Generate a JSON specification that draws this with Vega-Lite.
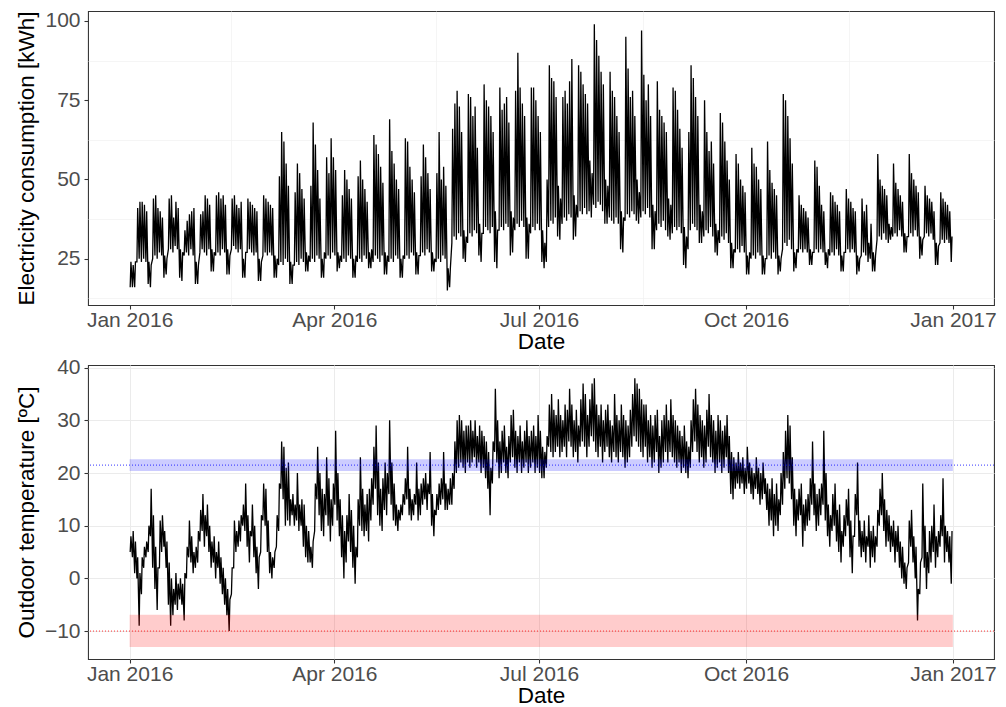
{
"$schema": "https://vega.github.io/schema/vega-lite/v6.json",
"background": "white",
"padding": {"left": 14, "top": 9, "right": 12, "bottom": 0},
"spacing": 60,
"bounds": "flush",
"config": {
"view": {"stroke": "#333333", "strokeWidth": 1.07},
"axis": {"labelFont": "Liberation Sans", "titleFont": "Liberation Sans", "labelFontSize": 21, "titleFontSize": 22.5, "labelColor": "#4D4D4D", "titleColor": "#000000", "titleFontWeight": "normal", "tickColor": "#333333", "tickSize": 4, "tickWidth": 1.07, "domain": false, "gridColor": "#EBEBEB", "gridWidth": 1.07},
"axisX": {"labelPadding": 0, "titlePadding": 0},
"axisY": {"labelPadding": 4, "titlePadding": 6}
},
"datasets": {
"bands": [
{"k": "hot", "x0": "2016-01-01T00:00", "x1": "2016-12-31T23:00", "lo": 20.4, "hi": 22.6, "mid": 21.5},
{"k": "cold", "x0": "2016-01-01T00:00", "x1": "2016-12-31T23:00", "lo": -13, "hi": -6.9, "mid": -10}
],
"ts": [
{"d":"2016-01-01T06:00","e":16,"c":5},{"d":"2016-01-01T14:00","e":24,"c":8},
{"d":"2016-01-02T06:00","e":16,"c":4},{"d":"2016-01-02T14:00","e":23,"c":9},
{"d":"2016-01-03T06:00","e":16,"c":1},{"d":"2016-01-03T14:00","e":24,"c":7},
{"d":"2016-01-04T06:00","e":24,"c":0},{"d":"2016-01-04T14:00","e":41,"c":4},
{"d":"2016-01-05T06:00","e":25,"c":-9},{"d":"2016-01-05T14:00","e":43,"c":1},
{"d":"2016-01-06T06:00","e":24,"c":-3},{"d":"2016-01-06T14:00","e":43,"c":4},
{"d":"2016-01-07T06:00","e":25,"c":2},{"d":"2016-01-07T14:00","e":42,"c":6},
{"d":"2016-01-08T06:00","e":24,"c":4},{"d":"2016-01-08T14:00","e":40,"c":7},
{"d":"2016-01-09T06:00","e":17,"c":5},{"d":"2016-01-09T14:00","e":24,"c":10},
{"d":"2016-01-10T06:00","e":16,"c":8},{"d":"2016-01-10T14:00","e":23,"c":17},
{"d":"2016-01-11T06:00","e":25,"c":2},{"d":"2016-01-11T14:00","e":44,"c":12},
{"d":"2016-01-12T06:00","e":26,"c":-2},{"d":"2016-01-12T14:00","e":45,"c":6},
{"d":"2016-01-13T06:00","e":25,"c":-6},{"d":"2016-01-13T14:00","e":41,"c":2},
{"d":"2016-01-14T06:00","e":27,"c":2},{"d":"2016-01-14T14:00","e":40,"c":11},
{"d":"2016-01-15T06:00","e":26,"c":5},{"d":"2016-01-15T14:00","e":38,"c":12},
{"d":"2016-01-16T06:00","e":19,"c":6},{"d":"2016-01-16T14:00","e":26,"c":9},
{"d":"2016-01-17T06:00","e":20,"c":2},{"d":"2016-01-17T14:00","e":25,"c":7},
{"d":"2016-01-18T06:00","e":28,"c":-5},{"d":"2016-01-18T14:00","e":44,"c":3},
{"d":"2016-01-19T06:00","e":28,"c":-9},{"d":"2016-01-19T14:00","e":45,"c":0},
{"d":"2016-01-20T06:00","e":27,"c":-7},{"d":"2016-01-20T14:00","e":38,"c":-2},
{"d":"2016-01-21T06:00","e":29,"c":-5},{"d":"2016-01-21T14:00","e":43,"c":1},
{"d":"2016-01-22T06:00","e":28,"c":-6},{"d":"2016-01-22T14:00","e":41,"c":-1},
{"d":"2016-01-23T06:00","e":19,"c":-4},{"d":"2016-01-23T14:00","e":28,"c":0},
{"d":"2016-01-24T06:00","e":18,"c":-5},{"d":"2016-01-24T14:00","e":27,"c":-1},
{"d":"2016-01-25T06:00","e":26,"c":-8},{"d":"2016-01-25T14:00","e":34,"c":1},
{"d":"2016-01-26T06:00","e":27,"c":0},{"d":"2016-01-26T14:00","e":37,"c":6},
{"d":"2016-01-27T06:00","e":26,"c":4},{"d":"2016-01-27T14:00","e":39,"c":11},
{"d":"2016-01-28T06:00","e":28,"c":3},{"d":"2016-01-28T14:00","e":40,"c":8},
{"d":"2016-01-29T06:00","e":26,"c":1},{"d":"2016-01-29T14:00","e":41,"c":5},
{"d":"2016-01-30T06:00","e":17,"c":2},{"d":"2016-01-30T14:00","e":24,"c":6},
{"d":"2016-01-31T06:00","e":17,"c":3},{"d":"2016-01-31T14:00","e":23,"c":9},
{"d":"2016-02-01T06:00","e":27,"c":7},{"d":"2016-02-01T14:00","e":39,"c":13},
{"d":"2016-02-02T06:00","e":28,"c":9},{"d":"2016-02-02T14:00","e":40,"c":16},
{"d":"2016-02-03T06:00","e":27,"c":6},{"d":"2016-02-03T14:00","e":45,"c":12},
{"d":"2016-02-04T06:00","e":26,"c":8},{"d":"2016-02-04T14:00","e":44,"c":14},
{"d":"2016-02-05T06:00","e":28,"c":5},{"d":"2016-02-05T14:00","e":42,"c":10},
{"d":"2016-02-06T06:00","e":21,"c":2},{"d":"2016-02-06T14:00","e":28,"c":7},
{"d":"2016-02-07T06:00","e":21,"c":3},{"d":"2016-02-07T14:00","e":27,"c":8},
{"d":"2016-02-08T06:00","e":26,"c":0},{"d":"2016-02-08T14:00","e":45,"c":5},
{"d":"2016-02-09T06:00","e":27,"c":2},{"d":"2016-02-09T14:00","e":46,"c":7},
{"d":"2016-02-10T06:00","e":26,"c":-1},{"d":"2016-02-10T14:00","e":44,"c":4},
{"d":"2016-02-11T06:00","e":28,"c":-3},{"d":"2016-02-11T14:00","e":45,"c":2},
{"d":"2016-02-12T06:00","e":27,"c":-5},{"d":"2016-02-12T14:00","e":42,"c":0},
{"d":"2016-02-13T06:00","e":20,"c":-7},{"d":"2016-02-13T14:00","e":28,"c":-2},
{"d":"2016-02-14T06:00","e":20,"c":-10},{"d":"2016-02-14T14:00","e":26,"c":-4},
{"d":"2016-02-15T06:00","e":28,"c":-3},{"d":"2016-02-15T14:00","e":44,"c":2},
{"d":"2016-02-16T06:00","e":29,"c":2},{"d":"2016-02-16T14:00","e":45,"c":11},
{"d":"2016-02-17T06:00","e":28,"c":5},{"d":"2016-02-17T14:00","e":42,"c":9},
{"d":"2016-02-18T06:00","e":27,"c":6},{"d":"2016-02-18T14:00","e":41,"c":11},
{"d":"2016-02-19T06:00","e":28,"c":7},{"d":"2016-02-19T14:00","e":43,"c":12},
{"d":"2016-02-20T06:00","e":19,"c":10},{"d":"2016-02-20T14:00","e":25,"c":14},
{"d":"2016-02-21T06:00","e":19,"c":9},{"d":"2016-02-21T14:00","e":27,"c":18},
{"d":"2016-02-22T06:00","e":27,"c":6},{"d":"2016-02-22T14:00","e":44,"c":12},
{"d":"2016-02-23T06:00","e":28,"c":3},{"d":"2016-02-23T14:00","e":43,"c":9},
{"d":"2016-02-24T06:00","e":27,"c":8},{"d":"2016-02-24T14:00","e":42,"c":14},
{"d":"2016-02-25T06:00","e":26,"c":4},{"d":"2016-02-25T14:00","e":41,"c":10},
{"d":"2016-02-26T06:00","e":27,"c":1},{"d":"2016-02-26T14:00","e":40,"c":6},
{"d":"2016-02-27T06:00","e":18,"c":-2},{"d":"2016-02-27T14:00","e":25,"c":4},
{"d":"2016-02-28T06:00","e":18,"c":5},{"d":"2016-02-28T14:00","e":24,"c":12},
{"d":"2016-02-29T06:00","e":26,"c":11},{"d":"2016-02-29T14:00","e":45,"c":18},
{"d":"2016-03-01T06:00","e":27,"c":10},{"d":"2016-03-01T14:00","e":44,"c":17},
{"d":"2016-03-02T06:00","e":26,"c":5},{"d":"2016-03-02T14:00","e":43,"c":11},
{"d":"2016-03-03T06:00","e":27,"c":1},{"d":"2016-03-03T14:00","e":42,"c":5},
{"d":"2016-03-04T06:00","e":26,"c":0},{"d":"2016-03-04T14:00","e":41,"c":4},
{"d":"2016-03-05T06:00","e":19,"c":2},{"d":"2016-03-05T14:00","e":26,"c":5},
{"d":"2016-03-06T06:00","e":19,"c":6},{"d":"2016-03-06T14:00","e":25,"c":12},
{"d":"2016-03-07T06:00","e":23,"c":9},{"d":"2016-03-07T14:00","e":51,"c":18},
{"d":"2016-03-08T06:00","e":24,"c":17},{"d":"2016-03-08T14:00","e":65,"c":26},
{"d":"2016-03-09T06:00","e":23,"c":15},{"d":"2016-03-09T14:00","e":62,"c":25},
{"d":"2016-03-10T06:00","e":25,"c":10},{"d":"2016-03-10T14:00","e":55,"c":21},
{"d":"2016-03-11T06:00","e":24,"c":11},{"d":"2016-03-11T14:00","e":48,"c":22},
{"d":"2016-03-12T06:00","e":17,"c":10},{"d":"2016-03-12T14:00","e":24,"c":15},
{"d":"2016-03-13T06:00","e":17,"c":12},{"d":"2016-03-13T14:00","e":23,"c":16},
{"d":"2016-03-14T06:00","e":23,"c":10},{"d":"2016-03-14T14:00","e":46,"c":14},
{"d":"2016-03-15T06:00","e":24,"c":11},{"d":"2016-03-15T14:00","e":55,"c":20},
{"d":"2016-03-16T06:00","e":23,"c":9},{"d":"2016-03-16T14:00","e":52,"c":14},
{"d":"2016-03-17T06:00","e":25,"c":10},{"d":"2016-03-17T14:00","e":47,"c":15},
{"d":"2016-03-18T06:00","e":24,"c":6},{"d":"2016-03-18T14:00","e":44,"c":14},
{"d":"2016-03-19T06:00","e":21,"c":4},{"d":"2016-03-19T14:00","e":27,"c":10},
{"d":"2016-03-20T06:00","e":21,"c":3},{"d":"2016-03-20T14:00","e":26,"c":9},
{"d":"2016-03-21T06:00","e":24,"c":3},{"d":"2016-03-21T14:00","e":48,"c":6},
{"d":"2016-03-22T06:00","e":25,"c":2},{"d":"2016-03-22T14:00","e":68,"c":7},
{"d":"2016-03-23T06:00","e":24,"c":9},{"d":"2016-03-23T14:00","e":61,"c":18},
{"d":"2016-03-24T06:00","e":26,"c":15},{"d":"2016-03-24T14:00","e":53,"c":25},
{"d":"2016-03-25T06:00","e":25,"c":12},{"d":"2016-03-25T14:00","e":44,"c":20},
{"d":"2016-03-26T06:00","e":19,"c":9},{"d":"2016-03-26T14:00","e":25,"c":17},
{"d":"2016-03-27T06:00","e":19,"c":8},{"d":"2016-03-27T14:00","e":27,"c":16},
{"d":"2016-03-28T06:00","e":25,"c":12},{"d":"2016-03-28T14:00","e":57,"c":23},
{"d":"2016-03-29T06:00","e":26,"c":10},{"d":"2016-03-29T14:00","e":52,"c":19},
{"d":"2016-03-30T06:00","e":25,"c":7},{"d":"2016-03-30T14:00","e":63,"c":15},
{"d":"2016-03-31T06:00","e":27,"c":10},{"d":"2016-03-31T14:00","e":57,"c":18},
{"d":"2016-04-01T06:00","e":26,"c":14},{"d":"2016-04-01T14:00","e":53,"c":28},
{"d":"2016-04-02T06:00","e":21,"c":11},{"d":"2016-04-02T14:00","e":27,"c":20},
{"d":"2016-04-03T06:00","e":22,"c":8},{"d":"2016-04-03T14:00","e":26,"c":15},
{"d":"2016-04-04T06:00","e":24,"c":4},{"d":"2016-04-04T14:00","e":45,"c":12},
{"d":"2016-04-05T06:00","e":25,"c":0},{"d":"2016-04-05T14:00","e":53,"c":9},
{"d":"2016-04-06T06:00","e":24,"c":3},{"d":"2016-04-06T14:00","e":50,"c":12},
{"d":"2016-04-07T06:00","e":26,"c":7},{"d":"2016-04-07T14:00","e":47,"c":16},
{"d":"2016-04-08T06:00","e":25,"c":5},{"d":"2016-04-08T14:00","e":44,"c":13},
{"d":"2016-04-09T06:00","e":19,"c":2},{"d":"2016-04-09T14:00","e":25,"c":10},
{"d":"2016-04-10T06:00","e":19,"c":-1},{"d":"2016-04-10T14:00","e":26,"c":6},
{"d":"2016-04-11T06:00","e":24,"c":4},{"d":"2016-04-11T14:00","e":51,"c":15},
{"d":"2016-04-12T06:00","e":25,"c":10},{"d":"2016-04-12T14:00","e":56,"c":23},
{"d":"2016-04-13T06:00","e":24,"c":9},{"d":"2016-04-13T14:00","e":50,"c":17},
{"d":"2016-04-14T06:00","e":26,"c":8},{"d":"2016-04-14T14:00","e":47,"c":14},
{"d":"2016-04-15T06:00","e":25,"c":9},{"d":"2016-04-15T14:00","e":43,"c":16},
{"d":"2016-04-16T06:00","e":22,"c":7},{"d":"2016-04-16T14:00","e":27,"c":17},
{"d":"2016-04-17T06:00","e":22,"c":11},{"d":"2016-04-17T14:00","e":28,"c":19},
{"d":"2016-04-18T06:00","e":24,"c":14},{"d":"2016-04-18T14:00","e":64,"c":25},
{"d":"2016-04-19T06:00","e":26,"c":17},{"d":"2016-04-19T14:00","e":61,"c":29},
{"d":"2016-04-20T06:00","e":25,"c":12},{"d":"2016-04-20T14:00","e":58,"c":22},
{"d":"2016-04-21T06:00","e":24,"c":10},{"d":"2016-04-21T14:00","e":54,"c":17},
{"d":"2016-04-22T06:00","e":26,"c":9},{"d":"2016-04-22T14:00","e":49,"c":19},
{"d":"2016-04-23T06:00","e":20,"c":13},{"d":"2016-04-23T14:00","e":27,"c":22},
{"d":"2016-04-24T06:00","e":20,"c":12},{"d":"2016-04-24T14:00","e":26,"c":20},
{"d":"2016-04-25T06:00","e":24,"c":16},{"d":"2016-04-25T14:00","e":69,"c":30},
{"d":"2016-04-26T06:00","e":25,"c":14},{"d":"2016-04-26T14:00","e":59,"c":22},
{"d":"2016-04-27T06:00","e":24,"c":11},{"d":"2016-04-27T14:00","e":55,"c":18},
{"d":"2016-04-28T06:00","e":26,"c":10},{"d":"2016-04-28T14:00","e":50,"c":14},
{"d":"2016-04-29T06:00","e":25,"c":9},{"d":"2016-04-29T14:00","e":47,"c":13},
{"d":"2016-04-30T06:00","e":19,"c":11},{"d":"2016-04-30T14:00","e":25,"c":14},
{"d":"2016-05-01T06:00","e":19,"c":12},{"d":"2016-05-01T14:00","e":26,"c":16},
{"d":"2016-05-02T06:00","e":25,"c":14},{"d":"2016-05-02T14:00","e":63,"c":19},
{"d":"2016-05-03T06:00","e":26,"c":15},{"d":"2016-05-03T14:00","e":62,"c":25},
{"d":"2016-05-04T06:00","e":25,"c":12},{"d":"2016-05-04T14:00","e":54,"c":17},
{"d":"2016-05-05T06:00","e":27,"c":11},{"d":"2016-05-05T14:00","e":50,"c":15},
{"d":"2016-05-06T06:00","e":26,"c":12},{"d":"2016-05-06T14:00","e":46,"c":16},
{"d":"2016-05-07T06:00","e":20,"c":14},{"d":"2016-05-07T14:00","e":27,"c":22},
{"d":"2016-05-08T06:00","e":20,"c":11},{"d":"2016-05-08T14:00","e":26,"c":17},
{"d":"2016-05-09T06:00","e":26,"c":12},{"d":"2016-05-09T14:00","e":51,"c":18},
{"d":"2016-05-10T06:00","e":27,"c":14},{"d":"2016-05-10T14:00","e":61,"c":19},
{"d":"2016-05-11T06:00","e":26,"c":15},{"d":"2016-05-11T14:00","e":57,"c":20},
{"d":"2016-05-12T06:00","e":28,"c":13},{"d":"2016-05-12T14:00","e":52,"c":18},
{"d":"2016-05-13T06:00","e":27,"c":16},{"d":"2016-05-13T14:00","e":47,"c":24},
{"d":"2016-05-14T06:00","e":21,"c":10},{"d":"2016-05-14T14:00","e":27,"c":16},
{"d":"2016-05-15T06:00","e":21,"c":8},{"d":"2016-05-15T14:00","e":25,"c":13},
{"d":"2016-05-16T06:00","e":24,"c":12},{"d":"2016-05-16T14:00","e":52,"c":16},
{"d":"2016-05-17T06:00","e":25,"c":13},{"d":"2016-05-17T14:00","e":65,"c":18},
{"d":"2016-05-18T06:00","e":24,"c":14},{"d":"2016-05-18T14:00","e":50,"c":19},
{"d":"2016-05-19T06:00","e":26,"c":15},{"d":"2016-05-19T14:00","e":54,"c":24},
{"d":"2016-05-20T06:00","e":25,"c":13},{"d":"2016-05-20T14:00","e":48,"c":18},
{"d":"2016-05-21T06:00","e":15,"c":13},{"d":"2016-05-21T14:00","e":22,"c":17},
{"d":"2016-05-22T06:00","e":16,"c":14},{"d":"2016-05-22T14:00","e":22,"c":19},
{"d":"2016-05-23T06:00","e":30,"c":14},{"d":"2016-05-23T14:00","e":66,"c":20},
{"d":"2016-05-24T06:00","e":32,"c":17},{"d":"2016-05-24T14:00","e":74,"c":26},
{"d":"2016-05-25T06:00","e":31,"c":20},{"d":"2016-05-25T14:00","e":78,"c":30},
{"d":"2016-05-26T06:00","e":33,"c":21},{"d":"2016-05-26T14:00","e":73,"c":31},
{"d":"2016-05-27T06:00","e":32,"c":22},{"d":"2016-05-27T14:00","e":65,"c":30},
{"d":"2016-05-28T06:00","e":25,"c":21},{"d":"2016-05-28T14:00","e":34,"c":28},
{"d":"2016-05-29T06:00","e":24,"c":20},{"d":"2016-05-29T14:00","e":32,"c":29},
{"d":"2016-05-30T06:00","e":30,"c":22},{"d":"2016-05-30T14:00","e":77,"c":29},
{"d":"2016-05-31T06:00","e":33,"c":21},{"d":"2016-05-31T14:00","e":76,"c":30},
{"d":"2016-06-01T06:00","e":32,"c":22},{"d":"2016-06-01T14:00","e":70,"c":28},
{"d":"2016-06-02T06:00","e":34,"c":23},{"d":"2016-06-02T14:00","e":73,"c":30},
{"d":"2016-06-03T06:00","e":33,"c":21},{"d":"2016-06-03T14:00","e":60,"c":27},
{"d":"2016-06-04T06:00","e":26,"c":22},{"d":"2016-06-04T14:00","e":36,"c":29},
{"d":"2016-06-05T06:00","e":24,"c":20},{"d":"2016-06-05T14:00","e":33,"c":28},
{"d":"2016-06-06T06:00","e":33,"c":21},{"d":"2016-06-06T14:00","e":80,"c":27},
{"d":"2016-06-07T06:00","e":35,"c":19},{"d":"2016-06-07T14:00","e":75,"c":26},
{"d":"2016-06-08T06:00","e":34,"c":17},{"d":"2016-06-08T14:00","e":73,"c":24},
{"d":"2016-06-09T06:00","e":33,"c":12},{"d":"2016-06-09T14:00","e":70,"c":21},
{"d":"2016-06-10T06:00","e":35,"c":18},{"d":"2016-06-10T14:00","e":65,"c":26},
{"d":"2016-06-11T06:00","e":24,"c":24},{"d":"2016-06-11T14:00","e":40,"c":36},
{"d":"2016-06-12T06:00","e":22,"c":22},{"d":"2016-06-12T14:00","e":34,"c":30},
{"d":"2016-06-13T06:00","e":34,"c":19},{"d":"2016-06-13T14:00","e":79,"c":26},
{"d":"2016-06-14T06:00","e":35,"c":20},{"d":"2016-06-14T14:00","e":72,"c":28},
{"d":"2016-06-15T06:00","e":34,"c":22},{"d":"2016-06-15T14:00","e":74,"c":29},
{"d":"2016-06-16T06:00","e":36,"c":20},{"d":"2016-06-16T14:00","e":76,"c":25},
{"d":"2016-06-17T06:00","e":35,"c":19},{"d":"2016-06-17T14:00","e":68,"c":27},
{"d":"2016-06-18T06:00","e":26,"c":22},{"d":"2016-06-18T14:00","e":40,"c":31},
{"d":"2016-06-19T06:00","e":27,"c":23},{"d":"2016-06-19T14:00","e":38,"c":32},
{"d":"2016-06-20T06:00","e":34,"c":21},{"d":"2016-06-20T14:00","e":78,"c":28},
{"d":"2016-06-21T06:00","e":36,"c":20},{"d":"2016-06-21T14:00","e":90,"c":27},
{"d":"2016-06-22T06:00","e":35,"c":22},{"d":"2016-06-22T14:00","e":79,"c":29},
{"d":"2016-06-23T06:00","e":37,"c":20},{"d":"2016-06-23T14:00","e":74,"c":26},
{"d":"2016-06-24T06:00","e":35,"c":21},{"d":"2016-06-24T14:00","e":70,"c":28},
{"d":"2016-06-25T06:00","e":25,"c":22},{"d":"2016-06-25T14:00","e":38,"c":30},
{"d":"2016-06-26T06:00","e":25,"c":20},{"d":"2016-06-26T14:00","e":36,"c":27},
{"d":"2016-06-27T06:00","e":33,"c":21},{"d":"2016-06-27T14:00","e":79,"c":28},
{"d":"2016-06-28T06:00","e":35,"c":22},{"d":"2016-06-28T14:00","e":79,"c":29},
{"d":"2016-06-29T06:00","e":34,"c":20},{"d":"2016-06-29T14:00","e":75,"c":27},
{"d":"2016-06-30T06:00","e":36,"c":21},{"d":"2016-06-30T14:00","e":70,"c":31},
{"d":"2016-07-01T06:00","e":34,"c":20},{"d":"2016-07-01T14:00","e":65,"c":28},
{"d":"2016-07-02T06:00","e":24,"c":19},{"d":"2016-07-02T14:00","e":34,"c":25},
{"d":"2016-07-03T06:00","e":22,"c":19},{"d":"2016-07-03T14:00","e":30,"c":24},
{"d":"2016-07-04T06:00","e":24,"c":21},{"d":"2016-07-04T14:00","e":50,"c":27},
{"d":"2016-07-05T06:00","e":35,"c":25},{"d":"2016-07-05T14:00","e":86,"c":33},
{"d":"2016-07-06T06:00","e":37,"c":24},{"d":"2016-07-06T14:00","e":82,"c":35},
{"d":"2016-07-07T06:00","e":36,"c":23},{"d":"2016-07-07T14:00","e":81,"c":32},
{"d":"2016-07-08T06:00","e":38,"c":24},{"d":"2016-07-08T14:00","e":76,"c":31},
{"d":"2016-07-09T06:00","e":32,"c":25},{"d":"2016-07-09T14:00","e":48,"c":34},
{"d":"2016-07-10T06:00","e":31,"c":23},{"d":"2016-07-10T14:00","e":44,"c":31},
{"d":"2016-07-11T06:00","e":36,"c":24},{"d":"2016-07-11T14:00","e":76,"c":30},
{"d":"2016-07-12T06:00","e":38,"c":25},{"d":"2016-07-12T14:00","e":78,"c":33},
{"d":"2016-07-13T06:00","e":37,"c":23},{"d":"2016-07-13T14:00","e":74,"c":32},
{"d":"2016-07-14T06:00","e":39,"c":26},{"d":"2016-07-14T14:00","e":81,"c":36},
{"d":"2016-07-15T06:00","e":38,"c":25},{"d":"2016-07-15T14:00","e":88,"c":33},
{"d":"2016-07-16T06:00","e":31,"c":23},{"d":"2016-07-16T14:00","e":45,"c":30},
{"d":"2016-07-17T06:00","e":32,"c":24},{"d":"2016-07-17T14:00","e":42,"c":32},
{"d":"2016-07-18T06:00","e":38,"c":22},{"d":"2016-07-18T14:00","e":86,"c":29},
{"d":"2016-07-19T06:00","e":40,"c":25},{"d":"2016-07-19T14:00","e":84,"c":34},
{"d":"2016-07-20T06:00","e":39,"c":26},{"d":"2016-07-20T14:00","e":80,"c":37},
{"d":"2016-07-21T06:00","e":41,"c":25},{"d":"2016-07-21T14:00","e":77,"c":35},
{"d":"2016-07-22T06:00","e":39,"c":23},{"d":"2016-07-22T14:00","e":74,"c":31},
{"d":"2016-07-23T06:00","e":40,"c":25},{"d":"2016-07-23T14:00","e":56,"c":34},
{"d":"2016-07-24T06:00","e":38,"c":27},{"d":"2016-07-24T14:00","e":52,"c":37},
{"d":"2016-07-25T06:00","e":42,"c":26},{"d":"2016-07-25T14:00","e":99,"c":38},
{"d":"2016-07-26T06:00","e":41,"c":24},{"d":"2016-07-26T14:00","e":94,"c":33},
{"d":"2016-07-27T06:00","e":43,"c":23},{"d":"2016-07-27T14:00","e":89,"c":31},
{"d":"2016-07-28T06:00","e":42,"c":25},{"d":"2016-07-28T14:00","e":84,"c":33},
{"d":"2016-07-29T06:00","e":40,"c":22},{"d":"2016-07-29T14:00","e":80,"c":30},
{"d":"2016-07-30T06:00","e":36,"c":24},{"d":"2016-07-30T14:00","e":50,"c":32},
{"d":"2016-07-31T06:00","e":36,"c":25},{"d":"2016-07-31T14:00","e":48,"c":33},
{"d":"2016-08-01T06:00","e":38,"c":23},{"d":"2016-08-01T14:00","e":84,"c":30},
{"d":"2016-08-02T06:00","e":37,"c":22},{"d":"2016-08-02T14:00","e":78,"c":29},
{"d":"2016-08-03T06:00","e":36,"c":24},{"d":"2016-08-03T14:00","e":76,"c":35},
{"d":"2016-08-04T06:00","e":38,"c":23},{"d":"2016-08-04T14:00","e":70,"c":31},
{"d":"2016-08-05T06:00","e":36,"c":22},{"d":"2016-08-05T14:00","e":65,"c":30},
{"d":"2016-08-06T06:00","e":28,"c":24},{"d":"2016-08-06T14:00","e":40,"c":33},
{"d":"2016-08-07T06:00","e":27,"c":23},{"d":"2016-08-07T14:00","e":38,"c":31},
{"d":"2016-08-08T06:00","e":37,"c":21},{"d":"2016-08-08T14:00","e":95,"c":30},
{"d":"2016-08-09T06:00","e":39,"c":22},{"d":"2016-08-09T14:00","e":85,"c":29},
{"d":"2016-08-10T06:00","e":38,"c":23},{"d":"2016-08-10T14:00","e":76,"c":32},
{"d":"2016-08-11T06:00","e":40,"c":25},{"d":"2016-08-11T14:00","e":78,"c":35},
{"d":"2016-08-12T06:00","e":39,"c":27},{"d":"2016-08-12T14:00","e":70,"c":38},
{"d":"2016-08-13T06:00","e":37,"c":26},{"d":"2016-08-13T14:00","e":50,"c":37},
{"d":"2016-08-14T06:00","e":36,"c":25},{"d":"2016-08-14T14:00","e":46,"c":36},
{"d":"2016-08-15T06:00","e":38,"c":24},{"d":"2016-08-15T14:00","e":97,"c":34},
{"d":"2016-08-16T06:00","e":40,"c":23},{"d":"2016-08-16T14:00","e":83,"c":33},
{"d":"2016-08-17T06:00","e":39,"c":25},{"d":"2016-08-17T14:00","e":75,"c":33},
{"d":"2016-08-18T06:00","e":41,"c":22},{"d":"2016-08-18T14:00","e":80,"c":30},
{"d":"2016-08-19T06:00","e":38,"c":23},{"d":"2016-08-19T14:00","e":70,"c":31},
{"d":"2016-08-20T06:00","e":28,"c":21},{"d":"2016-08-20T14:00","e":42,"c":29},
{"d":"2016-08-21T06:00","e":28,"c":22},{"d":"2016-08-21T14:00","e":40,"c":31},
{"d":"2016-08-22T06:00","e":34,"c":24},{"d":"2016-08-22T14:00","e":81,"c":32},
{"d":"2016-08-23T06:00","e":36,"c":20},{"d":"2016-08-23T14:00","e":72,"c":27},
{"d":"2016-08-24T06:00","e":35,"c":21},{"d":"2016-08-24T14:00","e":70,"c":30},
{"d":"2016-08-25T06:00","e":37,"c":22},{"d":"2016-08-25T14:00","e":68,"c":31},
{"d":"2016-08-26T06:00","e":34,"c":24},{"d":"2016-08-26T14:00","e":65,"c":33},
{"d":"2016-08-27T06:00","e":32,"c":22},{"d":"2016-08-27T14:00","e":44,"c":30},
{"d":"2016-08-28T06:00","e":31,"c":24},{"d":"2016-08-28T14:00","e":42,"c":34},
{"d":"2016-08-29T06:00","e":33,"c":23},{"d":"2016-08-29T14:00","e":79,"c":31},
{"d":"2016-08-30T06:00","e":35,"c":22},{"d":"2016-08-30T14:00","e":78,"c":30},
{"d":"2016-08-31T06:00","e":34,"c":21},{"d":"2016-08-31T14:00","e":72,"c":29},
{"d":"2016-09-01T06:00","e":35,"c":22},{"d":"2016-09-01T14:00","e":66,"c":28},
{"d":"2016-09-02T06:00","e":33,"c":20},{"d":"2016-09-02T14:00","e":60,"c":27},
{"d":"2016-09-03T06:00","e":23,"c":21},{"d":"2016-09-03T14:00","e":35,"c":29},
{"d":"2016-09-04T06:00","e":22,"c":20},{"d":"2016-09-04T14:00","e":32,"c":26},
{"d":"2016-09-05T06:00","e":28,"c":19},{"d":"2016-09-05T14:00","e":65,"c":25},
{"d":"2016-09-06T06:00","e":34,"c":21},{"d":"2016-09-06T14:00","e":86,"c":30},
{"d":"2016-09-07T06:00","e":36,"c":24},{"d":"2016-09-07T14:00","e":82,"c":34},
{"d":"2016-09-08T06:00","e":35,"c":26},{"d":"2016-09-08T14:00","e":76,"c":36},
{"d":"2016-09-09T06:00","e":34,"c":24},{"d":"2016-09-09T14:00","e":70,"c":33},
{"d":"2016-09-10T06:00","e":30,"c":22},{"d":"2016-09-10T14:00","e":42,"c":31},
{"d":"2016-09-11T06:00","e":30,"c":23},{"d":"2016-09-11T14:00","e":40,"c":30},
{"d":"2016-09-12T06:00","e":32,"c":21},{"d":"2016-09-12T14:00","e":75,"c":29},
{"d":"2016-09-13T06:00","e":34,"c":22},{"d":"2016-09-13T14:00","e":65,"c":32},
{"d":"2016-09-14T06:00","e":33,"c":25},{"d":"2016-09-14T14:00","e":59,"c":35},
{"d":"2016-09-15T06:00","e":35,"c":23},{"d":"2016-09-15T14:00","e":62,"c":31},
{"d":"2016-09-16T06:00","e":32,"c":22},{"d":"2016-09-16T14:00","e":55,"c":30},
{"d":"2016-09-17T06:00","e":27,"c":20},{"d":"2016-09-17T14:00","e":36,"c":28},
{"d":"2016-09-18T06:00","e":26,"c":21},{"d":"2016-09-18T14:00","e":34,"c":31},
{"d":"2016-09-19T06:00","e":30,"c":22},{"d":"2016-09-19T14:00","e":71,"c":30},
{"d":"2016-09-20T06:00","e":32,"c":20},{"d":"2016-09-20T14:00","e":68,"c":28},
{"d":"2016-09-21T06:00","e":31,"c":21},{"d":"2016-09-21T14:00","e":62,"c":29},
{"d":"2016-09-22T06:00","e":33,"c":23},{"d":"2016-09-22T14:00","e":56,"c":31},
{"d":"2016-09-23T06:00","e":30,"c":20},{"d":"2016-09-23T14:00","e":50,"c":27},
{"d":"2016-09-24T06:00","e":22,"c":16},{"d":"2016-09-24T14:00","e":30,"c":24},
{"d":"2016-09-25T06:00","e":22,"c":15},{"d":"2016-09-25T14:00","e":28,"c":23},
{"d":"2016-09-26T06:00","e":27,"c":17},{"d":"2016-09-26T14:00","e":58,"c":22},
{"d":"2016-09-27T06:00","e":28,"c":18},{"d":"2016-09-27T14:00","e":55,"c":24},
{"d":"2016-09-28T06:00","e":27,"c":17},{"d":"2016-09-28T14:00","e":50,"c":22},
{"d":"2016-09-29T06:00","e":29,"c":18},{"d":"2016-09-29T14:00","e":48,"c":23},
{"d":"2016-09-30T06:00","e":27,"c":16},{"d":"2016-09-30T14:00","e":46,"c":21},
{"d":"2016-10-01T06:00","e":20,"c":17},{"d":"2016-10-01T14:00","e":26,"c":25},
{"d":"2016-10-02T06:00","e":20,"c":18},{"d":"2016-10-02T14:00","e":27,"c":22},
{"d":"2016-10-03T06:00","e":25,"c":16},{"d":"2016-10-03T14:00","e":60,"c":21},
{"d":"2016-10-04T06:00","e":26,"c":15},{"d":"2016-10-04T14:00","e":55,"c":20},
{"d":"2016-10-05T06:00","e":25,"c":17},{"d":"2016-10-05T14:00","e":54,"c":23},
{"d":"2016-10-06T06:00","e":27,"c":16},{"d":"2016-10-06T14:00","e":50,"c":21},
{"d":"2016-10-07T06:00","e":26,"c":14},{"d":"2016-10-07T14:00","e":47,"c":20},
{"d":"2016-10-08T06:00","e":20,"c":15},{"d":"2016-10-08T14:00","e":26,"c":22},
{"d":"2016-10-09T06:00","e":20,"c":16},{"d":"2016-10-09T14:00","e":25,"c":19},
{"d":"2016-10-10T06:00","e":25,"c":13},{"d":"2016-10-10T14:00","e":62,"c":18},
{"d":"2016-10-11T06:00","e":26,"c":10},{"d":"2016-10-11T14:00","e":53,"c":17},
{"d":"2016-10-12T06:00","e":25,"c":11},{"d":"2016-10-12T14:00","e":49,"c":19},
{"d":"2016-10-13T06:00","e":27,"c":8},{"d":"2016-10-13T14:00","e":47,"c":16},
{"d":"2016-10-14T06:00","e":25,"c":10},{"d":"2016-10-14T14:00","e":45,"c":18},
{"d":"2016-10-15T06:00","e":20,"c":9},{"d":"2016-10-15T14:00","e":26,"c":15},
{"d":"2016-10-16T06:00","e":21,"c":12},{"d":"2016-10-16T14:00","e":25,"c":20},
{"d":"2016-10-17T06:00","e":28,"c":14},{"d":"2016-10-17T14:00","e":77,"c":24},
{"d":"2016-10-18T06:00","e":30,"c":17},{"d":"2016-10-18T14:00","e":75,"c":28},
{"d":"2016-10-19T06:00","e":29,"c":19},{"d":"2016-10-19T14:00","e":70,"c":31},
{"d":"2016-10-20T06:00","e":31,"c":18},{"d":"2016-10-20T14:00","e":63,"c":29},
{"d":"2016-10-21T06:00","e":28,"c":15},{"d":"2016-10-21T14:00","e":55,"c":23},
{"d":"2016-10-22T06:00","e":21,"c":10},{"d":"2016-10-22T14:00","e":27,"c":17},
{"d":"2016-10-23T06:00","e":22,"c":8},{"d":"2016-10-23T14:00","e":28,"c":15},
{"d":"2016-10-24T06:00","e":27,"c":11},{"d":"2016-10-24T14:00","e":45,"c":17},
{"d":"2016-10-25T06:00","e":28,"c":12},{"d":"2016-10-25T14:00","e":42,"c":18},
{"d":"2016-10-26T06:00","e":27,"c":6},{"d":"2016-10-26T14:00","e":41,"c":14},
{"d":"2016-10-27T06:00","e":28,"c":9},{"d":"2016-10-27T14:00","e":40,"c":15},
{"d":"2016-10-28T06:00","e":27,"c":10},{"d":"2016-10-28T14:00","e":38,"c":16},
{"d":"2016-10-29T06:00","e":23,"c":11},{"d":"2016-10-29T14:00","e":28,"c":19},
{"d":"2016-10-30T06:00","e":23,"c":14},{"d":"2016-10-30T14:00","e":27,"c":26},
{"d":"2016-10-31T06:00","e":27,"c":12},{"d":"2016-10-31T14:00","e":56,"c":18},
{"d":"2016-11-01T06:00","e":28,"c":9},{"d":"2016-11-01T14:00","e":54,"c":16},
{"d":"2016-11-02T06:00","e":27,"c":10},{"d":"2016-11-02T14:00","e":48,"c":17},
{"d":"2016-11-03T06:00","e":28,"c":12},{"d":"2016-11-03T14:00","e":42,"c":18},
{"d":"2016-11-04T06:00","e":27,"c":14},{"d":"2016-11-04T14:00","e":40,"c":28},
{"d":"2016-11-05T06:00","e":23,"c":11},{"d":"2016-11-05T14:00","e":27,"c":20},
{"d":"2016-11-06T06:00","e":22,"c":8},{"d":"2016-11-06T14:00","e":28,"c":14},
{"d":"2016-11-07T06:00","e":26,"c":6},{"d":"2016-11-07T14:00","e":46,"c":12},
{"d":"2016-11-08T06:00","e":27,"c":9},{"d":"2016-11-08T14:00","e":45,"c":16},
{"d":"2016-11-09T06:00","e":26,"c":10},{"d":"2016-11-09T14:00","e":43,"c":18},
{"d":"2016-11-10T06:00","e":28,"c":7},{"d":"2016-11-10T14:00","e":42,"c":13},
{"d":"2016-11-11T06:00","e":26,"c":5},{"d":"2016-11-11T14:00","e":40,"c":14},
{"d":"2016-11-12T06:00","e":21,"c":3},{"d":"2016-11-12T14:00","e":26,"c":9},
{"d":"2016-11-13T06:00","e":21,"c":6},{"d":"2016-11-13T14:00","e":27,"c":12},
{"d":"2016-11-14T06:00","e":27,"c":8},{"d":"2016-11-14T14:00","e":47,"c":15},
{"d":"2016-11-15T06:00","e":28,"c":10},{"d":"2016-11-15T14:00","e":44,"c":17},
{"d":"2016-11-16T06:00","e":27,"c":4},{"d":"2016-11-16T14:00","e":43,"c":11},
{"d":"2016-11-17T06:00","e":28,"c":1},{"d":"2016-11-17T14:00","e":41,"c":8},
{"d":"2016-11-18T06:00","e":27,"c":8},{"d":"2016-11-18T14:00","e":40,"c":16},
{"d":"2016-11-19T06:00","e":20,"c":12},{"d":"2016-11-19T14:00","e":26,"c":22},
{"d":"2016-11-20T06:00","e":21,"c":6},{"d":"2016-11-20T14:00","e":25,"c":11},
{"d":"2016-11-21T06:00","e":26,"c":4},{"d":"2016-11-21T14:00","e":44,"c":9},
{"d":"2016-11-22T06:00","e":27,"c":5},{"d":"2016-11-22T14:00","e":40,"c":11},
{"d":"2016-11-23T06:00","e":26,"c":3},{"d":"2016-11-23T14:00","e":42,"c":8},
{"d":"2016-11-24T06:00","e":24,"c":6},{"d":"2016-11-24T14:00","e":30,"c":12},
{"d":"2016-11-25T06:00","e":25,"c":2},{"d":"2016-11-25T14:00","e":36,"c":9},
{"d":"2016-11-26T06:00","e":21,"c":4},{"d":"2016-11-26T14:00","e":27,"c":10},
{"d":"2016-11-27T06:00","e":21,"c":3},{"d":"2016-11-27T14:00","e":26,"c":8},
{"d":"2016-11-28T06:00","e":31,"c":6},{"d":"2016-11-28T14:00","e":58,"c":13},
{"d":"2016-11-29T06:00","e":32,"c":10},{"d":"2016-11-29T14:00","e":50,"c":17},
{"d":"2016-11-30T06:00","e":31,"c":12},{"d":"2016-11-30T14:00","e":48,"c":20},
{"d":"2016-12-01T06:00","e":33,"c":9},{"d":"2016-12-01T14:00","e":47,"c":15},
{"d":"2016-12-02T06:00","e":31,"c":6},{"d":"2016-12-02T14:00","e":45,"c":13},
{"d":"2016-12-03T06:00","e":30,"c":7},{"d":"2016-12-03T14:00","e":36,"c":12},
{"d":"2016-12-04T06:00","e":31,"c":5},{"d":"2016-12-04T14:00","e":35,"c":10},
{"d":"2016-12-05T06:00","e":32,"c":6},{"d":"2016-12-05T14:00","e":55,"c":11},
{"d":"2016-12-06T06:00","e":33,"c":3},{"d":"2016-12-06T14:00","e":49,"c":9},
{"d":"2016-12-07T06:00","e":32,"c":5},{"d":"2016-12-07T14:00","e":47,"c":10},
{"d":"2016-12-08T06:00","e":34,"c":2},{"d":"2016-12-08T14:00","e":45,"c":7},
{"d":"2016-12-09T06:00","e":32,"c":0},{"d":"2016-12-09T14:00","e":43,"c":6},
{"d":"2016-12-10T06:00","e":27,"c":-1},{"d":"2016-12-10T14:00","e":33,"c":3},
{"d":"2016-12-11T06:00","e":27,"c":-2},{"d":"2016-12-11T14:00","e":32,"c":2},
{"d":"2016-12-12T06:00","e":32,"c":3},{"d":"2016-12-12T14:00","e":58,"c":11},
{"d":"2016-12-13T06:00","e":33,"c":6},{"d":"2016-12-13T14:00","e":52,"c":13},
{"d":"2016-12-14T06:00","e":32,"c":3},{"d":"2016-12-14T14:00","e":50,"c":8},
{"d":"2016-12-15T06:00","e":34,"c":0},{"d":"2016-12-15T14:00","e":48,"c":6},
{"d":"2016-12-16T06:00","e":32,"c":-8},{"d":"2016-12-16T14:00","e":46,"c":-2},
{"d":"2016-12-17T06:00","e":25,"c":-3},{"d":"2016-12-17T14:00","e":32,"c":3},
{"d":"2016-12-18T06:00","e":26,"c":4},{"d":"2016-12-18T14:00","e":31,"c":18},
{"d":"2016-12-19T06:00","e":32,"c":2},{"d":"2016-12-19T14:00","e":48,"c":10},
{"d":"2016-12-20T06:00","e":33,"c":-2},{"d":"2016-12-20T14:00","e":45,"c":5},
{"d":"2016-12-21T06:00","e":32,"c":1},{"d":"2016-12-21T14:00","e":44,"c":9},
{"d":"2016-12-22T06:00","e":33,"c":3},{"d":"2016-12-22T14:00","e":43,"c":10},
{"d":"2016-12-23T06:00","e":31,"c":5},{"d":"2016-12-23T14:00","e":40,"c":14},
{"d":"2016-12-24T06:00","e":23,"c":2},{"d":"2016-12-24T14:00","e":30,"c":8},
{"d":"2016-12-25T06:00","e":23,"c":4},{"d":"2016-12-25T14:00","e":29,"c":9},
{"d":"2016-12-26T06:00","e":30,"c":6},{"d":"2016-12-26T14:00","e":46,"c":12},
{"d":"2016-12-27T06:00","e":31,"c":8},{"d":"2016-12-27T14:00","e":44,"c":19},
{"d":"2016-12-28T06:00","e":30,"c":3},{"d":"2016-12-28T14:00","e":43,"c":10},
{"d":"2016-12-29T06:00","e":31,"c":5},{"d":"2016-12-29T14:00","e":42,"c":9},
{"d":"2016-12-30T06:00","e":30,"c":3},{"d":"2016-12-30T14:00","e":40,"c":8},
{"d":"2016-12-31T06:00","e":24,"c":-1},{"d":"2016-12-31T14:00","e":32,"c":9}
]
},
"vconcat": [
{
"width": 906,
"height": 294,
"data": {"name": "ts"},
"layer": [
{
"mark": {"type": "line", "opacity": 0},
"encoding": {
"x": {"field": "d", "type": "temporal", "scale": {"domain": [{"year": 2015, "month": 12, "date": 13, "hours": 12}, {"year": 2017, "month": 1, "date": 19, "hours": 6}]}, "axis": {"orient": "bottom", "values": [{"year": 2016, "month": 2, "date": 15}, {"year": 2016, "month": 5, "date": 16}, {"year": 2016, "month": 8, "date": 16}, {"year": 2016, "month": 11, "date": 16}], "labels": false, "ticks": false, "title": null, "gridColor": "#F0F0F0", "gridWidth": 0.7}},
"y": {"field": "e", "type": "quantitative", "scale": {"domain": [10.4, 103.15], "nice": false, "zero": false}, "axis": {"orient": "left", "values": [12.5, 37.5, 62.5, 87.5], "labels": false, "ticks": false, "title": null, "gridColor": "#F0F0F0", "gridWidth": 0.7}}
}
},
{
"mark": {"type": "line", "color": "#000000", "strokeWidth": 1.3},
"encoding": {
"x": {"field": "d", "type": "temporal", "axis": {"orient": "bottom", "values": [{"year": 2016, "month": 1, "date": 1}, {"year": 2016, "month": 4, "date": 1}, {"year": 2016, "month": 7, "date": 1}, {"year": 2016, "month": 10, "date": 1}, {"year": 2017, "month": 1, "date": 1}], "format": "%b %Y", "title": "Date"}},
"y": {"field": "e", "type": "quantitative", "axis": {"orient": "left", "values": [25, 50, 75, 100], "title": "Electricity consumption [kWh]"}}
}
}
],
"resolve": {"axis": {"x": "independent", "y": "independent"}}
},
{
"width": 906,
"height": 294,
"layer": [
{
"data": {"name": "ts"},
"mark": {"type": "line", "color": "#000000", "strokeWidth": 1.3},
"encoding": {
"x": {"field": "d", "type": "temporal", "scale": {"domain": [{"year": 2015, "month": 12, "date": 13, "hours": 12}, {"year": 2017, "month": 1, "date": 19, "hours": 6}]}, "axis": {"orient": "bottom", "values": [{"year": 2016, "month": 1, "date": 1}, {"year": 2016, "month": 4, "date": 1}, {"year": 2016, "month": 7, "date": 1}, {"year": 2016, "month": 10, "date": 1}, {"year": 2017, "month": 1, "date": 1}], "format": "%b %Y", "title": "Date"}},
"y": {"field": "c", "type": "quantitative", "scale": {"domain": [-15.3, 40.5], "nice": false, "zero": false}, "axis": {"orient": "left", "values": [-10, 0, 10, 20, 30, 40], "title": "Outdoor temperature [ºC]"}}
}
},
{
"data": {"name": "bands"},
"mark": {"type": "rect", "opacity": 0.2},
"encoding": {
"x": {"field": "x0", "type": "temporal", "axis": {"orient": "bottom", "values": [{"year": 2016, "month": 2, "date": 15}, {"year": 2016, "month": 5, "date": 16}, {"year": 2016, "month": 8, "date": 16}, {"year": 2016, "month": 11, "date": 16}], "labels": false, "ticks": false, "title": null, "gridColor": "#F0F0F0", "gridWidth": 0.7}},
"x2": {"field": "x1"},
"y": {"field": "lo", "type": "quantitative", "axis": {"orient": "left", "values": [-15, -5, 5, 15, 25, 35], "labels": false, "ticks": false, "title": null, "gridColor": "#F0F0F0", "gridWidth": 0.7}},
"y2": {"field": "hi"},
"color": {"field": "k", "type": "nominal", "scale": {"domain": ["hot", "cold"], "range": ["#0000FF", "#FF0000"]}, "legend": null}
}
},
{
"data": {"name": "bands"},
"mark": {"type": "rule", "strokeWidth": 1, "strokeDash": [1, 2], "opacity": 0.8},
"encoding": {
"y": {"field": "mid", "type": "quantitative", "axis": null},
"color": {"field": "k", "type": "nominal", "legend": null}
}
}
],
"resolve": {"axis": {"x": "independent", "y": "independent"}}
}
]
}
